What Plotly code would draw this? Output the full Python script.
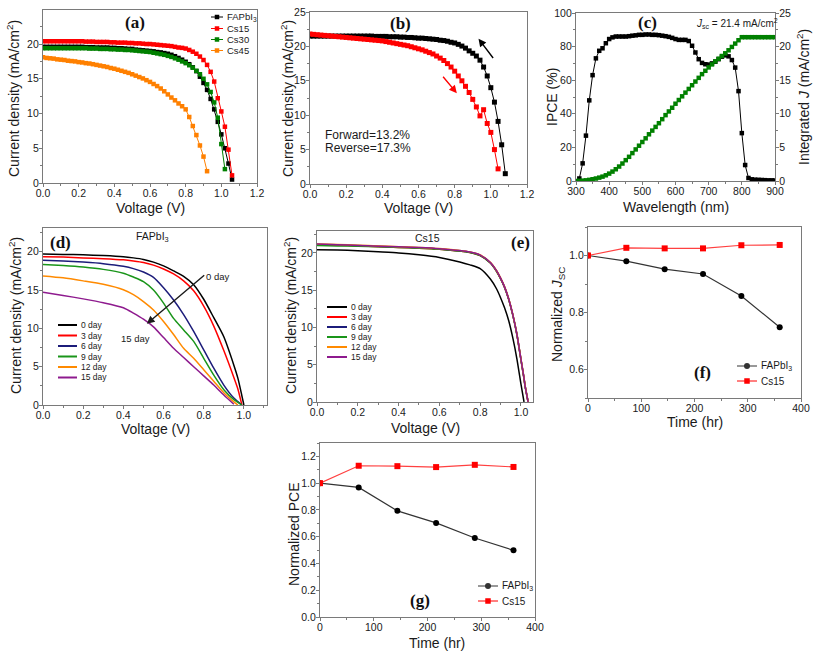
import plotly.graph_objects as go

W, H = 813, 653
SANS = "Liberation Sans, Arial, sans-serif"
SERIF = "Liberation Serif, Times New Roman, serif"


def px(x):
    return x / W


def py(y):
    return 1 - y / H


def dom_x(a, b):
    return [a / W, b / W]


def dom_y(top, bottom):
    return [1 - bottom / H, 1 - top / H]


# ---------------- data ----------------
# (a) J-V curves, 0.02 V steps starting at 0 V
A_STEP = 0.02
A_FAPBI3 = [19.6, 19.6, 19.6, 19.6, 19.6, 19.6, 19.6, 19.6, 19.6, 19.6,
            19.6, 19.6, 19.55, 19.55, 19.55, 19.5, 19.5, 19.5, 19.5, 19.45,
            19.45, 19.4, 19.4, 19.35, 19.3, 19.3, 19.2, 19.15, 19.1, 19.05,
            19.0, 18.95, 18.85, 18.8, 18.7, 18.6, 18.45, 18.25, 18.0, 17.75,
            17.45, 17.1, 16.65, 16.1, 15.3, 14.4, 13.4, 12.1, 10.6, 8.8,
            7.0, 5.0, 2.8, 0.5]
A_CS15 = [20.4, 20.4, 20.4, 20.4, 20.4, 20.4, 20.4, 20.4, 20.4, 20.4,
          20.4, 20.4, 20.35, 20.35, 20.35, 20.3, 20.3, 20.3, 20.3, 20.25,
          20.25, 20.2, 20.2, 20.2, 20.15, 20.15, 20.1, 20.1, 20.05, 20.0,
          20.0, 19.95, 19.9, 19.85, 19.8, 19.75, 19.7, 19.6, 19.5, 19.45,
          19.35, 19.15, 18.9, 18.6, 18.2, 17.7, 17.0, 16.0, 14.6, 12.2,
          10.3, 8.1, 4.8, 1.1]
A_CS30 = [19.4, 19.4, 19.4, 19.4, 19.4, 19.4, 19.4, 19.4, 19.4, 19.4,
          19.4, 19.4, 19.4, 19.35, 19.35, 19.35, 19.3, 19.3, 19.3, 19.25,
          19.25, 19.2, 19.2, 19.15, 19.15, 19.1, 19.05, 19.0, 18.95, 18.9,
          18.85, 18.75, 18.65, 18.55, 18.45, 18.3, 18.15, 17.95, 17.75, 17.5,
          17.25, 16.95, 16.6, 16.15, 15.65, 15.0, 14.2, 13.1, 11.6, 9.4,
          5.6, 2.0]
A_CS45 = [18.1, 18.0, 17.95, 17.9, 17.8, 17.75, 17.7, 17.6, 17.55, 17.5,
          17.4, 17.35, 17.25, 17.2, 17.1, 17.0, 16.9, 16.8, 16.7, 16.55,
          16.45, 16.3, 16.15, 16.0, 15.85, 15.65, 15.45, 15.25, 15.05, 14.8,
          14.55, 14.25, 13.95, 13.6, 13.2, 12.75, 12.3, 11.9, 11.45, 11.05,
          10.6, 9.5, 8.2, 6.9, 5.4, 3.8, 1.7]

# (b) hysteresis, 0.02 V steps
B_REVERSE = [21.5, 21.5, 21.5, 21.5, 21.5, 21.5, 21.5, 21.5, 21.5, 21.5,
             21.5, 21.5, 21.5, 21.5, 21.5, 21.5, 21.5, 21.5, 21.45, 21.45,
             21.45, 21.45, 21.4, 21.4, 21.4, 21.35, 21.35, 21.3, 21.3, 21.25,
             21.2, 21.2, 21.15, 21.1, 21.05, 21.0, 20.9, 20.85, 20.75, 20.6,
             20.5, 20.3, 20.05, 19.75, 19.35, 19.0, 18.6, 18.0, 17.0, 15.7,
             14.0, 11.9, 9.1, 5.7, 1.5]
B_FORWARD = [21.8, 21.75, 21.7, 21.65, 21.6, 21.55, 21.5, 21.45, 21.4, 21.35,
             21.3, 21.25, 21.2, 21.15, 21.1, 21.05, 21.0, 20.95, 20.9, 20.85,
             20.8, 20.7, 20.6, 20.5, 20.4, 20.3, 20.2, 20.1, 19.95, 19.8,
             19.65, 19.5, 19.3, 19.1, 18.9, 18.6, 18.3, 17.95, 17.5, 17.0,
             16.4, 15.7, 15.0, 14.2, 13.3, 12.3, 11.2, 9.9, 10.8, 8.8,
             7.5, 5.0, 2.2]

# (c) IPCE (310-900 nm) and integrated J (300-900 nm), 10 nm steps
C_IPCE_START = 310
C_IPCE = [1.5, 10.5, 27, 48, 63, 73, 77.5, 79, 82, 84.5,
          85.5, 86, 86, 86, 86, 86.2, 86.5, 86.7, 87, 87,
          87.2, 87.2, 87, 87, 86.8, 86.5, 86.2, 85.8, 85.2, 84.5,
          84, 84, 84, 83.3, 80.5, 76.5, 72.5, 70.3, 69.5, 69.3,
          70, 71, 72.5, 74, 74.8, 74.2, 72, 67.5, 53.5, 28.5,
          9.5, 1.8, 1.0, 0.8, 0.7, 0.6, 0.5, 0.4, 0.4, 0.3]
C_J_START = 300
C_JINT = [0.0, 0.02, 0.05, 0.1, 0.17, 0.26, 0.37, 0.5, 0.65, 0.85,
          1.1, 1.4, 1.75, 2.15, 2.6, 3.1, 3.6, 4.15, 4.7, 5.25,
          5.8, 6.35, 6.95, 7.5, 8.05, 8.6, 9.2, 9.8, 10.35, 10.9,
          11.5, 12.05, 12.6, 13.15, 13.7, 14.25, 14.8, 15.35, 15.9, 16.4,
          16.9, 17.35, 17.8, 18.2, 18.6, 19.0, 19.45, 19.95, 20.45, 20.95,
          21.4, 21.4, 21.4, 21.4, 21.4, 21.4, 21.4, 21.4, 21.4, 21.4, 21.4]

# (d) FAPbI3 aging
D_V = [0, 0.1, 0.2, 0.3, 0.4, 0.45, 0.5, 0.55, 0.6, 0.65, 0.7, 0.75, 0.8,
       0.85, 0.9, 0.95, 0.97, 0.99, 1.0]
D_0 = [19.7, 19.65, 19.6, 19.5, 19.35, 19.2, 19.0, 18.65, 18.15, 17.5, 16.8,
       15.7, 13.8, 11.4, 8.9, 5.2, 3.5, 1.2, 0.0]
D_3 = [19.35, 19.3, 19.2, 19.1, 18.95, 18.8, 18.6, 18.25, 17.75, 17.1, 16.2,
       14.9, 12.9, 10.3, 7.1, 3.6, 2.1, 0.0, None]
D_6 = [18.9, 18.8, 18.65, 18.45, 18.1, 17.8, 17.35, 16.65, 15.3, 13.7, 11.8,
       9.6, 7.2, 4.8, 2.6, 0.9, 0.45, 0.0, None]
D_9 = [18.35, 18.2, 18.0, 17.7, 17.2, 16.7, 16.1, 15.0, 13.3, 11.3, 9.8,
       8.3, 6.1, 3.9, 2.0, 0.7, 0.35, 0.0, None]
D_12 = [16.85, 16.6, 16.2, 15.75, 15.05, 14.4, 13.5, 12.4, 10.9, 9.2, 7.4,
        6.1, 4.6, 3.1, 1.6, 0.4, 0.0, None, None]
D_15 = [14.7, 14.3, 13.85, 13.35, 12.7, 12.0, 11.2, 10.2, 8.8, 7.4, 6.2,
        5.0, 3.8, 2.6, 1.3, 0.1, None, None, None]

# (e) Cs15 aging
E_V = [0, 0.1, 0.2, 0.3, 0.4, 0.5, 0.6, 0.7, 0.75, 0.8, 0.85, 0.88, 0.9,
       0.92, 0.94, 0.96, 0.98, 1.0, 1.015, 1.02, 1.035]
E_0 = [20.45, 20.4, 20.3, 20.15, 20.0, 19.75, 19.4, 18.8, 18.4, 17.9, 16.5,
       15.2, 14.0, 12.6, 10.9, 8.6, 5.8, 2.4, 0.0, None, None]
E_3 = [21.1, 21.05, 20.95, 20.85, 20.75, 20.65, 20.5, 20.25, 20.05, 19.65,
       18.65, 17.55, 16.55, 15.35, 13.75, 11.65, 9.05, 5.65, 3.1, 2.15, 0.0]
E_6 = [21.15, 21.1, 21.0, 20.9, 20.8, 20.7, 20.55, 20.3, 20.1, 19.7, 18.7,
       17.6, 16.6, 15.4, 13.8, 11.7, 9.1, 5.7, 3.2, 2.2, 0.0]
E_9 = [21.0, 20.95, 20.9, 20.85, 20.75, 20.65, 20.5, 20.25, 20.05, 19.65,
       18.65, 17.55, 16.55, 15.35, 13.75, 11.65, 9.05, 5.65, 3.1, 2.15, 0.0]
E_12 = [21.2, 21.15, 21.05, 20.95, 20.85, 20.75, 20.6, 20.35, 20.15, 19.75,
        18.75, 17.65, 16.65, 15.45, 13.85, 11.75, 9.15, 5.75, 3.25, 2.25, 0.0]
E_15 = [21.2, 21.12, 21.02, 20.92, 20.82, 20.72, 20.57, 20.32, 20.12, 19.72,
        18.72, 17.62, 16.62, 15.42, 13.82, 11.72, 9.12, 5.72, 3.2, 2.2, 0.0]

# (f), (g) stability vs time
TIME_HR = [0, 72, 144, 216, 288, 360]
F_FAPBI3 = [1.0, 0.980, 0.952, 0.935, 0.858, 0.748]
F_CS15 = [1.0, 1.027, 1.025, 1.025, 1.036, 1.037]
G_FAPBI3 = [1.0, 0.968, 0.793, 0.703, 0.590, 0.498]
G_CS15 = [1.0, 1.130, 1.127, 1.120, 1.137, 1.121]

DAY_NAMES = ["0 day", "3 day", "6 day", "9 day", "12 day", "15 day"]
DAY_COLORS = ["#000000", "#ff0000", "#1c1c7a", "#1a951a", "#ff8a00", "#8e1a8e"]

# ---------------- figure ----------------
fig = go.Figure()


def grid(step, n, start=0.0):
    return [round(start + step * i, 4) for i in range(n)]


for ys, col in [(A_FAPBI3, "#000000"), (A_CS15, "#ff0000"),
                (A_CS30, "#008000"), (A_CS45, "#ff8000")]:
    fig.add_trace(go.Scatter(x=grid(A_STEP, len(ys)), y=ys, mode="lines+markers",
                             line=dict(color=col, width=1),
                             marker=dict(symbol="square", size=4.5, color=col),
                             xaxis="x", yaxis="y", showlegend=False))

for ys, col in [(B_REVERSE, "#000000"), (B_FORWARD, "#ff0000")]:
    fig.add_trace(go.Scatter(x=grid(A_STEP, len(ys)), y=ys, mode="lines+markers",
                             line=dict(color=col, width=1),
                             marker=dict(symbol="square", size=5, color=col),
                             xaxis="x2", yaxis="y2", showlegend=False))

fig.add_trace(go.Scatter(x=grid(10, len(C_IPCE), C_IPCE_START), y=C_IPCE,
                         mode="lines+markers", line=dict(color="#000000", width=1),
                         marker=dict(symbol="square", size=4.5, color="#000000"),
                         xaxis="x3", yaxis="y3", showlegend=False))
fig.add_trace(go.Scatter(x=grid(10, len(C_JINT), C_J_START), y=C_JINT,
                         mode="lines+markers", line=dict(color="#4caf2a", width=1),
                         marker=dict(symbol="square", size=4.5, color="#008000"),
                         xaxis="x3", yaxis="y4", showlegend=False))

for ys, col in zip([D_0, D_3, D_6, D_9, D_12, D_15], DAY_COLORS):
    fig.add_trace(go.Scatter(x=D_V, y=ys, mode="lines",
                             line=dict(color=col, width=1.5, shape="spline", smoothing=0.7),
                             xaxis="x5", yaxis="y5", showlegend=False))

for ys, col in zip([E_0, E_3, E_6, E_9, E_12, E_15], DAY_COLORS):
    fig.add_trace(go.Scatter(x=E_V, y=ys, mode="lines",
                             line=dict(color=col, width=1.5, shape="spline", smoothing=0.6),
                             xaxis="x6", yaxis="y6", showlegend=False))

for (xa, ya, fa, cs) in [("x7", "y7", F_FAPBI3, F_CS15), ("x8", "y8", G_FAPBI3, G_CS15)]:
    fig.add_trace(go.Scatter(x=TIME_HR, y=fa, mode="lines+markers",
                             line=dict(color="#333333", width=1.2),
                             marker=dict(symbol="circle", size=6, color="#000000"),
                             xaxis=xa, yaxis=ya, showlegend=False))
    fig.add_trace(go.Scatter(x=TIME_HR, y=cs, mode="lines+markers",
                             line=dict(color="#ff4040", width=1.2),
                             marker=dict(symbol="square", size=6, color="#ff0000"),
                             xaxis=xa, yaxis=ya, showlegend=False))

# ---------------- axes ----------------
LC = "#7a7a7a"
AX = dict(showline=True, linecolor=LC, linewidth=1.2, mirror=True, ticks="outside",
          ticklen=3, tickwidth=1, tickcolor=LC, showgrid=False, zeroline=False,
          automargin=False,
          tickfont=dict(family=SANS, size=10.5, color="#1a1a1a"))
XS = dict(ticklabelstandoff=-3)
YS = dict(ticklabelstandoff=-2)


def minor(d):
    return dict(ticks="outside", dtick=d, ticklen=2, tickcolor=LC)


layout_axes = dict(
    xaxis=dict(AX, **XS, domain=dom_x(43, 257), range=[0, 1.2], dtick=0.2, tickformat=".1f",
               anchor="y", minor=minor(0.1)),
    yaxis=dict(AX, **YS, domain=dom_y(10, 183), range=[0, 24.9], dtick=5, anchor="x",
               minor=minor(2.5)),
    xaxis2=dict(AX, **XS, domain=dom_x(310, 527), range=[0, 1.2], dtick=0.2, tickformat=".1f",
                anchor="y2", minor=minor(0.1)),
    yaxis2=dict(AX, **YS, domain=dom_y(12, 184), range=[0, 25], dtick=5, anchor="x2",
                minor=minor(2.5)),
    xaxis3=dict(AX, **XS, domain=dom_x(576, 775), range=[300, 900], dtick=100, anchor="y3",
                minor=minor(50)),
    yaxis3=dict(AX, **YS, domain=dom_y(13, 181), range=[0, 100], dtick=20, anchor="x3",
                minor=minor(10)),
    yaxis4=dict(AX, **YS, range=[0, 25], dtick=5, anchor="x3", overlaying="y3", side="right",
                mirror=False, minor=minor(2.5)),
    xaxis5=dict(AX, **XS, domain=dom_x(43, 267), range=[0, 1.115], dtick=0.2, tickformat=".1f",
                anchor="y5", minor=minor(0.1)),
    yaxis5=dict(AX, **YS, domain=dom_y(228, 405), range=[0, 23.1], dtick=5, anchor="x5",
                minor=minor(2.5)),
    xaxis6=dict(AX, **XS, domain=dom_x(317, 533), range=[0, 1.059], dtick=0.2, tickformat=".1f",
                anchor="y6", minor=minor(0.1)),
    yaxis6=dict(AX, **YS, domain=dom_y(231, 402), range=[0, 22.95], dtick=5, anchor="x6",
                minor=minor(2.5)),
    xaxis7=dict(AX, **XS, domain=dom_x(588, 801), range=[0, 400], dtick=100, anchor="y7",
                minor=minor(50)),
    yaxis7=dict(AX, **YS, domain=dom_y(227, 398), range=[0.5, 1.1], dtick=0.2, tickformat=".1f",
                anchor="x7", minor=minor(0.1)),
    xaxis8=dict(AX, **XS, domain=dom_x(320, 535), range=[0, 400], dtick=100, anchor="y8",
                minor=minor(50)),
    yaxis8=dict(AX, **YS, domain=dom_y(443, 617), range=[0, 1.3], dtick=0.2, tickformat=".1f",
                anchor="x8", minor=minor(0.1)),
)

# ---------------- annotations ----------------
ann = []
shapes = []


def text(x, y, s, size=14, angle=0, xanchor="center", family=SANS, color="#1a1a1a"):
    ann.append(dict(x=px(x), y=py(y), xref="paper", yref="paper", text=s, showarrow=False,
                    textangle=angle, xanchor=xanchor, yanchor="middle",
                    font=dict(family=family, size=size, color=color)))


CD = "Current density (mA/cm<sup>2</sup>)"
# axis titles
text(13, 99, CD, angle=-90)
text(150, 208, "Voltage (V)")
text(287, 99, CD, angle=-90)
text(418, 208, "Voltage (V)")
text(552, 97, "IPCE (%)", angle=-90)
text(803, 97, "Integrated <i>J</i> (mA/cm<sup>2</sup>)", angle=-90)
text(676, 207, "Wavelength (nm)")
text(15, 316, CD, angle=-90)
text(155, 429, "Voltage (V)")
text(290, 316, CD, angle=-90)
text(425, 428, "Voltage (V)")
text(558, 315, "Normalized <i>J</i><sub>SC</sub>", angle=-90)
text(695, 422, "Time (hr)")
text(294, 535, "Normalized PCE", angle=-90)
text(437, 643, "Time (hr)")

# panel labels
for lx, ly, lab in [(135, 23, "(a)"), (400, 24, "(b)"), (647, 23, "(c)"), (60, 242, "(d)"),
                    (520, 243, "(e)"), (702, 372, "(f)"), (420, 600, "(g)")]:
    text(lx, ly, "<b>%s</b>" % lab, size=17, family=SERIF, color="#111111")

# inner texts
text(737, 24, "<i>J</i><sub>sc</sub> = 21.4 mA/cm<sup>2</sup>", size=10)
text(323, 135, "Forward=13.2%", size=12, xanchor="left")
text(323, 148, "Reverse=17.3%", size=12, xanchor="left")
text(152, 237, "FAPbI<sub>3</sub>", size=10.5)
text(427, 238, "Cs15", size=10.5)
text(218, 276, "0 day", size=9.5)
text(135, 338, "15 day", size=9.5)


def arrow(xr, yr, hx, hy, tx, ty, color):
    ann.append(dict(x=hx, y=hy, ax=tx, ay=ty, xref=xr, yref=yr, axref=xr, ayref=yr,
                    text="", showarrow=True, arrowhead=2, arrowsize=1.1, arrowwidth=1.4,
                    arrowcolor=color))


arrow("x2", "y2", 0.932, 21.1, 1.019, 18.1, "#000000")
arrow("x2", "y2", 0.812, 13.2, 0.729, 15.8, "#ff0000")
arrow("x5", "y5", 0.517, 10.6, 0.81, 17.1, "#1a1a1a")


# manual legends
def legend_entry(x0, x1, y, col, label, size, marker=None, msize=5, lw=1.0, tx=None):
    shapes.append(dict(type="line", xref="paper", yref="paper", x0=px(x0), x1=px(x1),
                       y0=py(y), y1=py(y), line=dict(color=col, width=lw)))
    if marker:
        xm = (x0 + x1) / 2
        h = msize / 2
        shapes.append(dict(type="rect" if marker == "square" else "circle",
                           xref="paper", yref="paper",
                           x0=px(xm - h), x1=px(xm + h), y0=py(y + h), y1=py(y - h),
                           fillcolor=col, line=dict(width=0)))
    text(x1 + 2 if tx is None else tx, y, label, size=size, xanchor="left")


for y, col, lab in zip([17, 28.5, 39.5, 50.5], ["#000000", "#ff0000", "#008000", "#ff8000"],
                       ["FAPbI<sub>3</sub>", "Cs15", "Cs30", "Cs45"]):
    legend_entry(211, 223, y, col, lab, 9.5, marker="square", msize=4.5)

for y, col, lab in zip([325, 335.5, 346, 356.5, 367, 377.5], DAY_COLORS, DAY_NAMES):
    legend_entry(58, 77, y, col, lab, 8.5, lw=2)

for y, col, lab in zip([307, 317, 327, 337, 347, 357], DAY_COLORS, DAY_NAMES):
    legend_entry(327, 347, y, col, lab, 8.5, lw=2)

for (x0, ys) in [(737, [366, 381]), (478, [586, 601])]:
    legend_entry(x0, x0 + 20, ys[0], "#333333", "FAPbI<sub>3</sub>", 10, marker="circle", msize=6)
    legend_entry(x0, x0 + 20, ys[1], "#ff0000", "Cs15", 10, marker="square", msize=5.5)

fig.update_layout(
    width=W, height=H, margin=dict(l=0, r=0, t=0, b=0, autoexpand=False),
    paper_bgcolor="white", plot_bgcolor="white",
    font=dict(family=SANS, color="#1a1a1a"),
    showlegend=False, annotations=ann, shapes=shapes,
    **layout_axes,
)

fig.write_html("out.html", config={"displayModeBar": False},
               post_script="document.body.style.margin='0';document.body.style.overflow='hidden';")
